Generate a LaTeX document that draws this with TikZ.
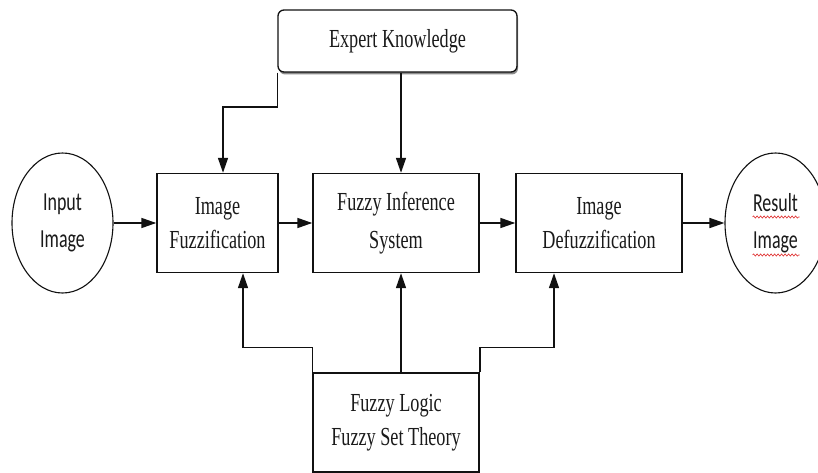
\documentclass[tikz,border=0pt]{standalone}
\usepackage{fontspec}
\newfontfamily\boxfont[FakeStretch=0.7]{Liberation Serif}
\newfontfamily\ellfont[FakeStretch=0.69]{Carlito}
\usepackage{xcolor}
\definecolor{lineblack}{HTML}{111111}
\definecolor{textdark}{HTML}{1A1A1A}
\definecolor{shadowgray}{HTML}{8C8C8C}
\definecolor{squigred}{HTML}{E03030}
\usepackage{tikz}
\usetikzlibrary{shapes.geometric, arrows.meta, calc, shadows, decorations.pathmorphing}
\tikzset{
  stagebox/.style={rectangle, draw=lineblack, line width=1.4pt, fill=white, text=textdark, align=center,
                   inner sep=2pt, minimum height=99pt, font=\boxfont\fontsize{26}{34}\selectfont},
  expertbox/.style={rectangle, rounded corners=6pt, draw=lineblack, line width=1.3pt, fill=white, text=textdark,
                    align=center, minimum width=239pt, minimum height=62pt, font=\boxfont\fontsize{26}{34}\selectfont,
                    drop shadow={shadow xshift=1pt, shadow yshift=-2.5pt, fill=shadowgray, opacity=1}},
  ioell/.style={ellipse, draw=lineblack, line width=1.1pt, fill=white, text=textdark, align=center, inner sep=0pt,
                minimum width=101pt, minimum height=140pt, font=\ellfont\fontsize{26}{37}\selectfont},
  flowarr/.style={-{Triangle[length=15pt,width=10pt]}, line width=1.6pt, draw=lineblack},
  squig/.style={draw=squigred, line width=0.6pt, decorate, decoration={snake, segment length=3.5pt, amplitude=1.1pt}},
}
\begin{document}
\begin{tikzpicture}[x=1pt, y=-1pt]
  \useasboundingbox (0,0) rectangle (818,473);
  \node[expertbox] (ek) at (397.5,41) {Expert Knowledge};
  \node[ioell] (inp) at (62.5,223) {Input\\Image};
  \node[stagebox, minimum width=121pt] (fuz) at (217.5,223) {Image\\Fuzzification};
  \node[stagebox, minimum width=166pt, font=\boxfont\fontsize{26}{38}\selectfont] (fis) at (396,223) {Fuzzy Inference\\System};
  \node[stagebox, minimum width=166pt] (dfz) at (599,223) {Image\\Defuzzification};
  \node[ioell] (res) at (775.5,223) {Result\\Image};
  \node[stagebox, minimum width=166pt] (fl) at (396,422.5) {Fuzzy Logic\\Fuzzy Set Theory};
  % main chain
  \draw[flowarr] (inp.east) -- (fuz.west);
  \draw[flowarr] (fuz.east) -- (fis.west);
  \draw[flowarr] (fis.east) -- (dfz.west);
  \draw[flowarr] (dfz.east) -- (res.west);
  % expert knowledge feeds
  \coordinate (midline) at ($(fis.north)+(5,0)$);
  \draw[flowarr] (ek.south west) |- (223,107) -- ($(fuz.north)+(5.5,0)$);
  \draw[flowarr] (midline |- ek.south) -- (midline);
  % fuzzy logic feeds
  \draw[flowarr] (fl.north west) -- ++(0,-25) -| ($(fuz.south)+(25.5,0)$);
  \draw[flowarr] (midline |- fl.north) -- (midline |- fis.south);
  \draw[flowarr] (fl.north east) -- ++(0,-25) -| ($(dfz.south)+(-45,0)$);
  % spell-check marks
  \draw[squig] ($(res.center)+(-23,-6)$) -- ++(47,0);
  \draw[squig] ($(res.center)+(-23,32)$) -- ++(47,0);
\end{tikzpicture}
\end{document}
